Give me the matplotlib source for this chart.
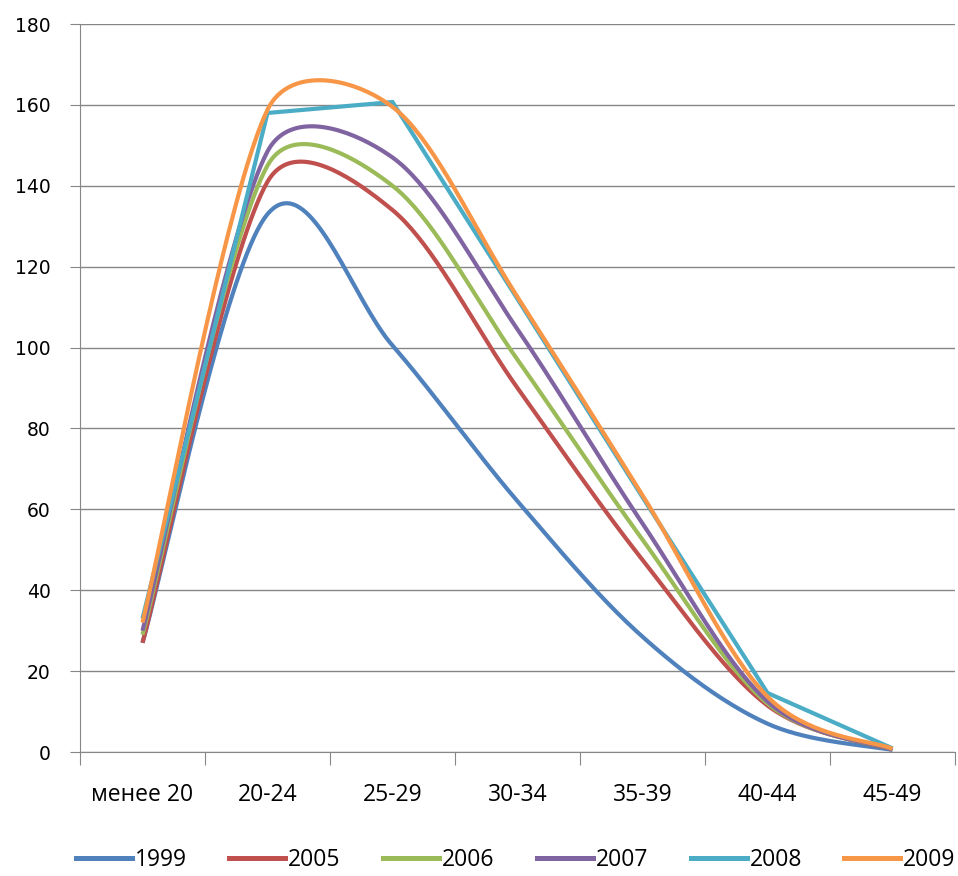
import numpy as np
import matplotlib
matplotlib.use("Agg")
import matplotlib.pyplot as plt
from matplotlib.lines import Line2D

# age groups (x categories)
categories = ["менее 20", "20-24", "25-29", "30-34", "35-39", "40-44", "45-49"]

# values, one list per year
y1999 = [27, 133, 100.5, 62, 28.5, 7, 0.5]
y2005 = [27, 141, 134, 90, 47.5, 11.5, 0.6]
y2006 = [29, 145, 140, 97, 52.5, 12, 0.7]
y2007 = [30, 148.5, 147, 104.5, 56.5, 12.5, 0.7]
y2008 = [33, 158, 160.7, 112, 63, 14.6, 0.9]
y2009 = [32, 158.8, 159.5, 112.5, 63.5, 13.7, 0.8]

years = ["1999", "2005", "2006", "2007", "2008", "2009"]
series = [y1999, y2005, y2006, y2007, y2008, y2009]
colors = ["#4F81BD", "#C0504D", "#9BBB59", "#8064A2", "#4BACC6", "#F79646"]
smooth = [True, True, True, True, False, True]

YSTRETCH = 1.35  # smoothing is worked out as if the plot were a bit taller


def excel_smooth(ax, xs, ys, n=40):
    # excel-like bezier smoothing (arms of 1/6, capped at half the segment)
    pts = ax.transData.transform(np.column_stack([xs, ys]))
    pts[:, 1] *= YSTRETCH
    out = [pts[0]]
    m = len(pts)
    for i in range(m - 1):
        p0 = pts[i - 1] if i > 0 else pts[i]
        p1 = pts[i]
        p2 = pts[i + 1]
        p3 = pts[i + 2] if i + 2 < m else pts[i + 1]
        d02 = np.hypot(*(p2 - p0))
        d12 = np.hypot(*(p2 - p1))
        d13 = np.hypot(*(p3 - p1))
        f = 1/6. if d02/6. < d12/2. else d12/(2.*d02)
        g = 1/6. if d13/6. < d12/2. else d12/(2.*d13)
        b1 = p1 + f*(p2 - p0)
        b2 = p2 - g*(p3 - p1)
        t = np.linspace(0, 1, n)[1:, None]
        seg = (1-t)**3*p1 + 3*(1-t)**2*t*b1 + 3*(1-t)*t**2*b2 + t**3*p2
        out.extend(seg)
    out = np.array(out)
    out[:, 1] /= YSTRETCH
    out = ax.transData.inverted().transform(out)
    return out[:, 0], out[:, 1]


fig = plt.figure(figsize=(9.58, 8.76), dpi=100)
ax = fig.add_axes([80/958., 1-752/876., 875/958., 728/876.])
ax.set_xlim(-0.5, 6.5)
ax.set_ylim(0, 180)

xpos = np.arange(len(categories))
for vals, c, sm, lab in zip(series, colors, smooth, years):
    if sm:
        sx, sy = excel_smooth(ax, xpos, vals)
    else:
        sx, sy = xpos, vals
    ax.plot(sx, sy, color=c, lw=3.0, solid_capstyle='butt',
            solid_joinstyle='miter', label=lab, clip_on=False)

grid_c = "#868686"
ax.set_yticks(np.arange(0, 181, 20))
ax.yaxis.grid(True, color=grid_c, lw=1.0)
ax.set_axisbelow(True)
for s in ["top", "right"]:
    ax.spines[s].set_visible(False)
ax.spines["left"].set_color(grid_c)
ax.spines["bottom"].set_color(grid_c)
ax.tick_params(axis='y', length=7, color=grid_c, labelsize=13.5, pad=14)

ax.set_xticks(np.arange(-0.5, 6.6, 1.0))
ax.set_xticklabels([])
ax.set_xticks(xpos, minor=True)
ax.set_xticklabels(categories, minor=True, fontfamily="Open Sans", fontsize=16.5)
ax.tick_params(axis='x', which='major', length=9, color=grid_c)
ax.tick_params(axis='x', which='minor', length=0, pad=22)

handles = [Line2D([], [], color=c, lw=3.6) for c in colors]
fig.legend(handles, years, loc='center left', bbox_to_anchor=(76/958., 1-860/876.),
           ncol=6, frameon=False, prop={'family': 'Open Sans', 'size': 16.5},
           borderpad=0, borderaxespad=0,
           handlelength=2.45, handletextpad=0.12, columnspacing=1.85)

fig.savefig("out.png", dpi=100)
